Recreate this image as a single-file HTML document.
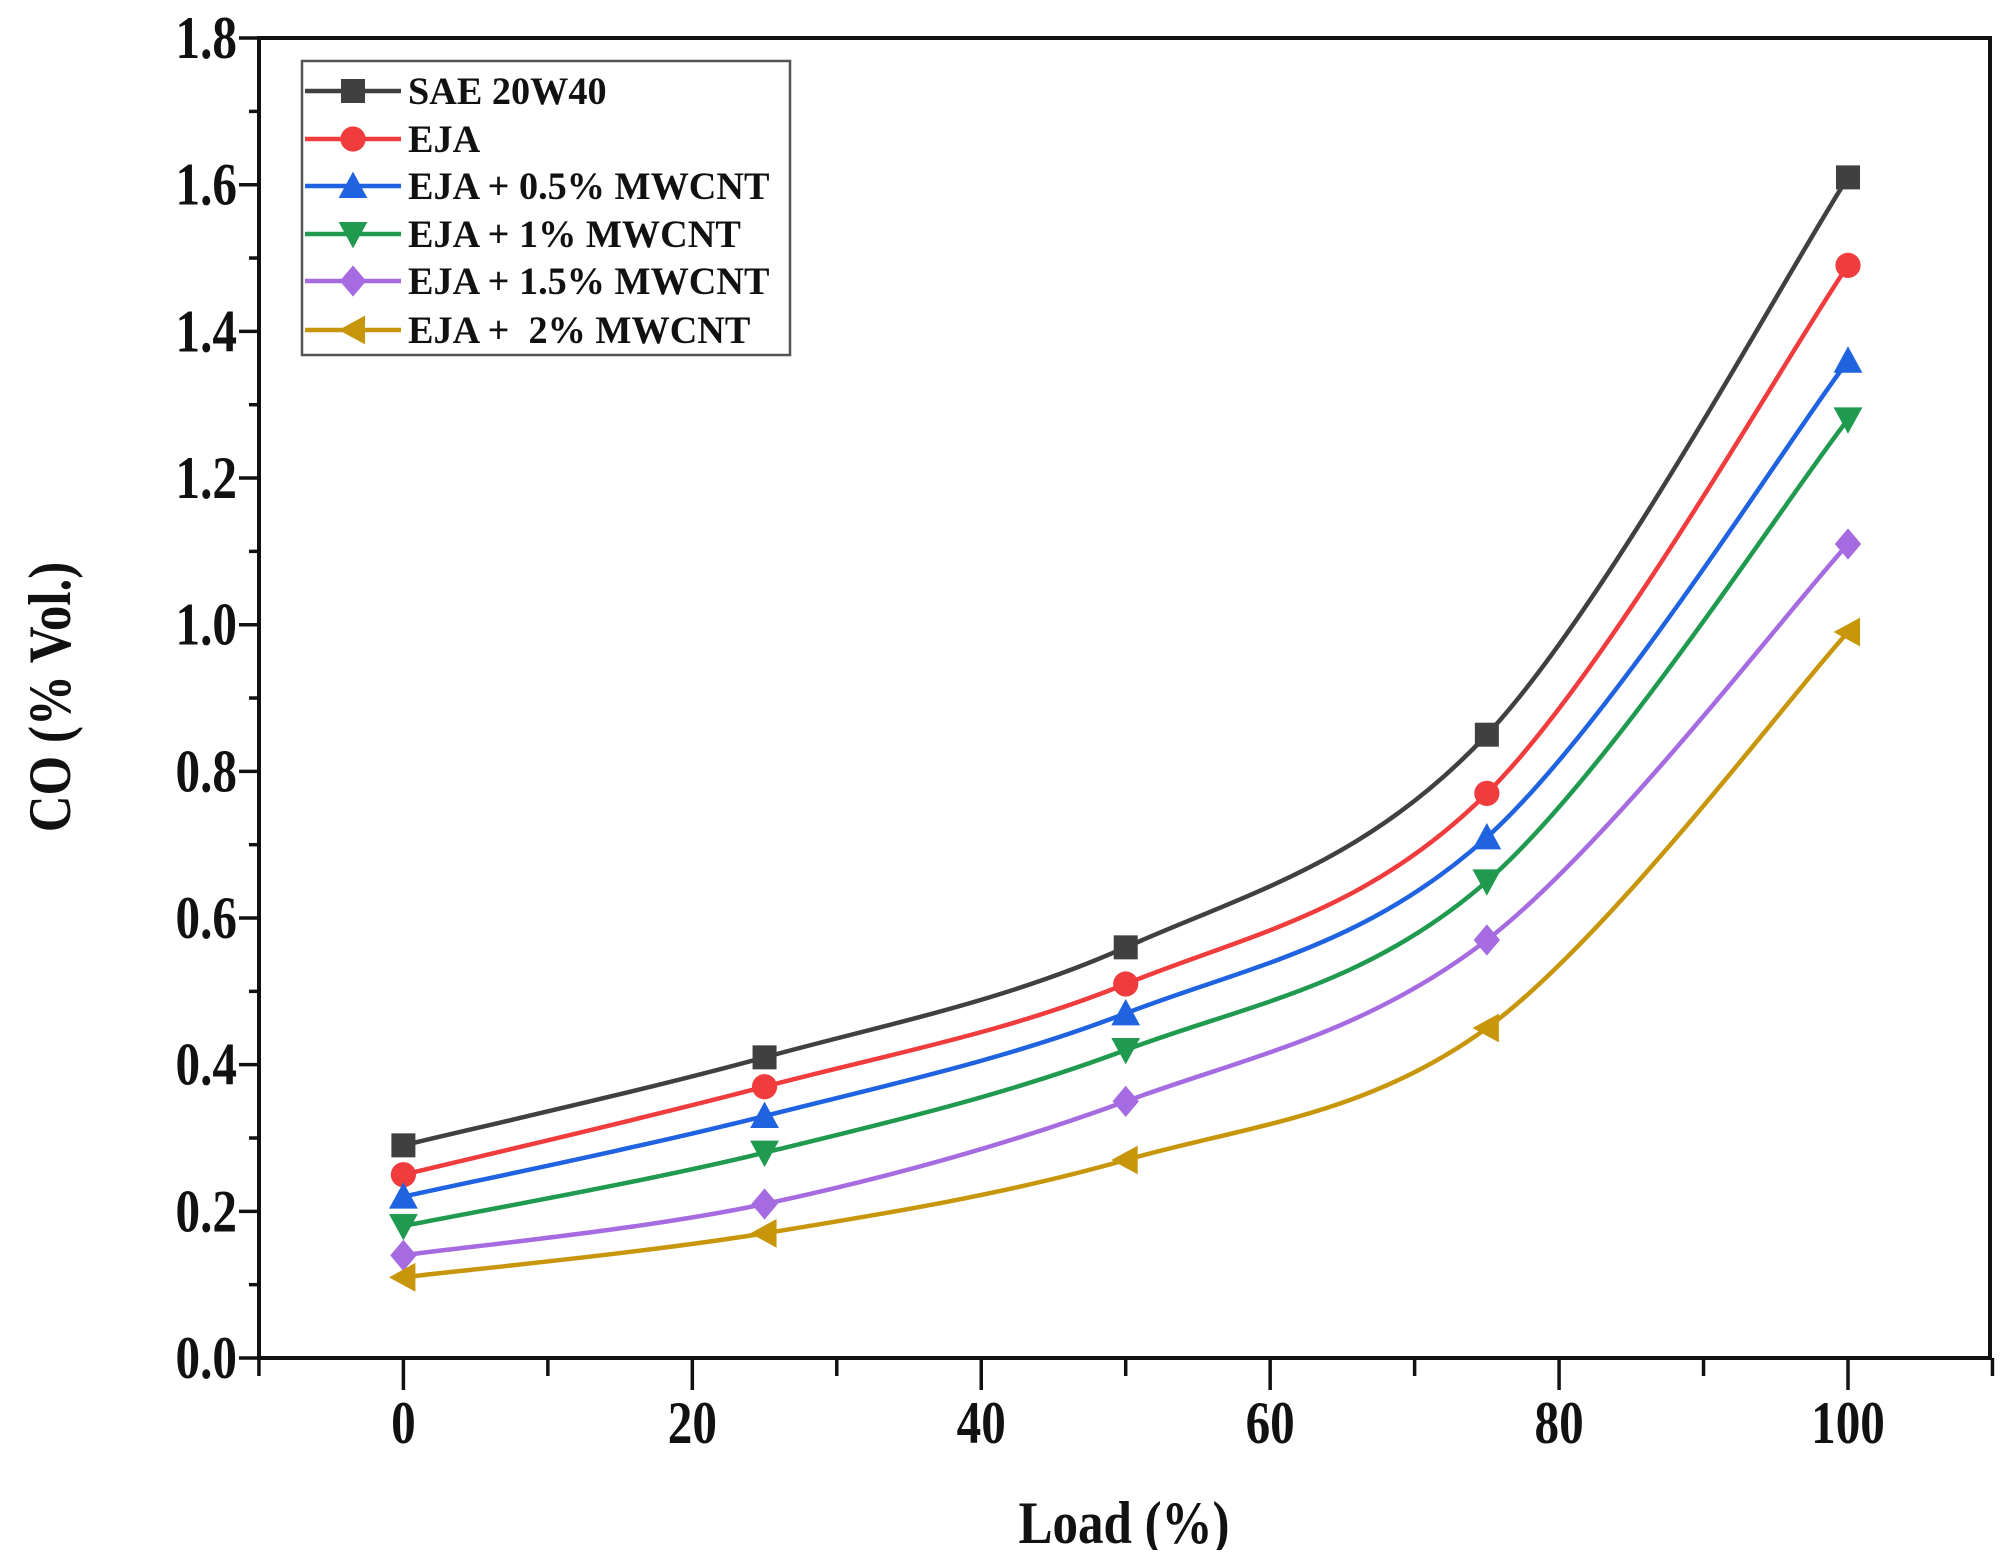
<!DOCTYPE html>
<html><head><meta charset="utf-8"><style>
html,body{margin:0;padding:0;background:#fff;}
svg text{font-family:"Liberation Serif",serif;font-weight:bold;fill:#111;}
</style></head><body>
<svg id="s" width="2008" height="1550" xmlns="http://www.w3.org/2000/svg"></svg>
<script>
const s=document.getElementById('s');
const X=v=>403.4+v*14.446, Y=v=>1358-v*733.3;
let h='';
const L=259,R=1990,T=38,B=1358;
const tx=(x,y,fs,anchor,str,sx)=>`<text transform="translate(${x},${y}) scale(${sx},1)" font-size="${fs}" text-anchor="${anchor}" xml:space="preserve">${str}</text>`;
h+=`<rect x="${L}" y="${T}" width="${R-L}" height="${B-T}" fill="none" stroke="#111" stroke-width="4"/>`;
for(let v=-10;v<=110;v+=10){const x=X(v);const maj=v%20==0;h+=`<line x1="${x}" y1="${B}" x2="${x}" y2="${B+(maj?32:18)}" stroke="#111" stroke-width="3.5"/>`;
 if(maj&&v>=0&&v<=100)h+=tx(x,1443,60,'middle',v,0.82);}
for(let i=0;i<=18;i++){const v=i/10,y=Y(v);const maj=i%2==0;h+=`<line x1="${L}" y1="${y}" x2="${L-(maj?20:10)}" y2="${y}" stroke="#111" stroke-width="3.5"/>`;
 if(maj)h+=tx(237,y+20,60,'end',v.toFixed(1),0.82);}
h+=tx(1124,1543,60,'middle','Load (%)',0.85);
h+=`<text transform="translate(70,697) rotate(-90) scale(0.85,1)" font-size="60" text-anchor="middle">CO (% Vol.)</text>`;
const xs=[0,25,50,75,100];
const S=[
['SAE 20W40','#404040','sq',[0.29,0.41,0.56,0.85,1.61]],
['EJA','#f03c3c','ci',[0.25,0.37,0.51,0.77,1.49]],
['EJA + 0.5% MWCNT','#1f63e0','tu',[0.22,0.33,0.47,0.71,1.36]],
['EJA + 1% MWCNT','#1f9a4f','td',[0.18,0.28,0.42,0.65,1.28]],
['EJA + 1.5% MWCNT','#a66be0','di',[0.14,0.21,0.35,0.57,1.11]],
['EJA +  2% MWCNT','#c8960a','tl',[0.11,0.17,0.27,0.45,0.99]]];
function mk(t,x,y,c,r){
 if(t=='sq')return `<rect x="${x-r}" y="${y-r}" width="${2*r}" height="${2*r}" fill="${c}"/>`;
 if(t=='ci')return `<circle cx="${x}" cy="${y}" r="${r*1.05}" fill="${c}"/>`;
 if(t=='tu')return `<polygon points="${x},${y-r*1.2} ${x-r*1.2},${y+r} ${x+r*1.2},${y+r}" fill="${c}"/>`;
 if(t=='td')return `<polygon points="${x},${y+r*1.2} ${x-r*1.2},${y-r} ${x+r*1.2},${y-r}" fill="${c}"/>`;
 if(t=='di')return `<polygon points="${x},${y-r*1.3} ${x+r*1.1},${y} ${x},${y+r*1.3} ${x-r*1.1},${y}" fill="${c}"/>`;
 return `<polygon points="${x-r*1.2},${y} ${x+r},${y-r*1.2} ${x+r},${y+r*1.2}" fill="${c}"/>`;}
S.forEach(([n,c,t,d],k)=>{
 const p=xs.map((v,i)=>[X(v),Y(d[i])]);
 let path=`M${p[0]}`;
 for(let i=0;i<p.length-1;i++){const p0=p[i-1]||p[i],p1=p[i],p2=p[i+1],p3=p[i+2]||p2;
  const c1=[p1[0]+(p2[0]-p0[0])/6,p1[1]+(p2[1]-p0[1])/6],c2=[p2[0]-(p3[0]-p1[0])/6,p2[1]-(p3[1]-p1[1])/6];
  path+=` C${c1} ${c2} ${p2}`;}
 h+=`<path d="${path}" fill="none" stroke="${c}" stroke-width="4.5"/>`;
 p.forEach(q=>h+=mk(t,q[0],q[1],c,12));
 const ly=[91,139,186,234,281,330][k];
 h+=`<line x1="305" y1="${ly}" x2="401" y2="${ly}" stroke="${c}" stroke-width="4.5"/>`+mk(t,353,ly,c,12);
 h+=tx(408,ly+13,39,'start',n,0.98);
});
h+=`<rect x="302" y="61" width="488" height="294" fill="none" stroke="#555" stroke-width="2.5"/>`;
s.innerHTML=h;
</script>
</body></html>
